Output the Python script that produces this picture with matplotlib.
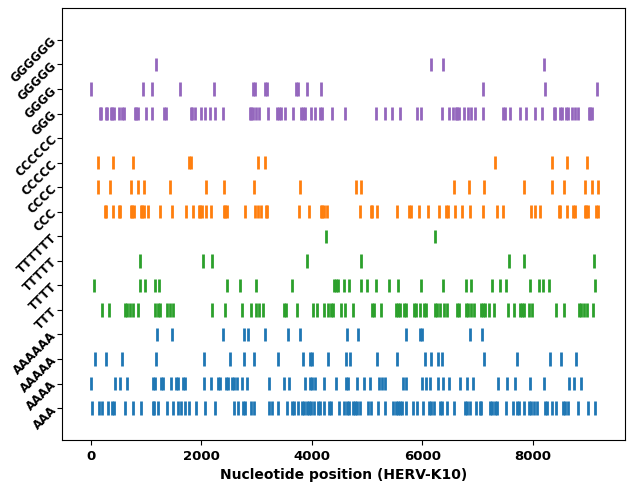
import matplotlib
matplotlib.use("Agg")
import matplotlib.pyplot as plt

# Row labels, bottom to top
labels = ["AAA", "AAAA", "AAAAA", "AAAAAA",
          "TTT", "TTTT", "TTTTT", "TTTTTT",
          "CCC", "CCCC", "CCCCC", "CCCCCC",
          "GGG", "GGGG", "GGGGG", "GGGGGG"]

# Positions of each homopolymer run
AAA = [24, 145, 193, 314, 380, 416, 615, 760, 911, 1116, 1146, 1206, 1381, 1484,
       1568, 1629, 1695, 1768, 1906, 2063, 2238, 2588, 2660, 2751, 2787, 2902, 2956,
       3222, 3276, 3391, 3542, 3632, 3680, 3741, 3819, 3861, 3904, 3946, 3982, 4030,
       4109, 4151, 4223, 4314, 4350, 4483, 4579, 4628, 4670, 4736, 4778, 4821, 4863,
       5020, 5068, 5189, 5327, 5472, 5514, 5557, 5599, 5629, 5701, 5822, 5907, 6009,
       6112, 6154, 6214, 6310, 6359, 6443, 6576, 6769, 6811, 6860, 6968, 7034, 7065,
       7221, 7264, 7306, 7348, 7511, 7638, 7716, 7752, 7843, 7927, 7969, 8012, 8066,
       8211, 8253, 8344, 8410, 8543, 8585, 8633, 8814, 9001, 9128]
AAAA = [5, 428, 519, 645, 1122, 1164, 1267, 1303, 1442, 1532, 1581, 1671, 1707,
        2039, 2166, 2298, 2341, 2437, 2479, 2546, 2594, 2642, 2733, 2823, 3228, 3487,
        3578, 3867, 3964, 4006, 4048, 4211, 4429, 4616, 4652, 4809, 4935, 5050, 5213,
        5267, 5315, 5641, 5707, 5985, 6057, 6142, 6287, 6377, 6473, 6672, 6799, 6908,
        7360, 7529, 7668, 7951, 8199, 8645, 8736, 8862]
AAAAA = [66, 265, 561, 1176, 2045, 2510, 2769, 2944, 3379, 3831, 3964, 4006, 4284,
         4622, 4682, 5171, 5533, 6039, 6148, 6275, 6347, 7119, 7704, 8301, 8500, 8778]
AAAAAA = [1194, 1460, 2389, 2769, 2841, 3149, 3560, 3783, 4628, 4827, 5701, 5961,
          5997, 6853, 7071]

TTT = [193, 320, 615, 657, 706, 754, 857, 1152, 1212, 1255, 1375, 1430, 1478, 2184,
       2419, 2727, 2890, 2980, 3035, 3107, 3487, 3536, 3723, 4012, 4091, 4211, 4284,
       4338, 4380, 4519, 4597, 4736, 5080, 5122, 5249, 5520, 5557, 5593, 5665, 5701,
       5840, 5888, 5955, 6027, 6063, 6226, 6256, 6317, 6383, 6443, 6624, 6660, 6781,
       6829, 6878, 6932, 7053, 7089, 7137, 7209, 7288, 7553, 7650, 7758, 7795, 7843,
       7927, 7976, 8410, 8555, 8832, 8874, 8917, 8971, 9086]
TTTT = [54, 881, 971, 1152, 1231, 2461, 2697, 2992, 3632, 4398, 4441, 4477, 4579,
        4670, 4881, 4989, 5158, 5388, 5551, 5967, 6365, 6781, 6872, 7258, 7402, 7511,
        7945, 8108, 8181, 8289, 9122]
TTTTT = [881, 2021, 2190, 3910, 4881, 7559, 7831, 9104]
TTTTTT = [4254, 6226]

CCC = [247, 277, 392, 501, 531, 718, 748, 778, 899, 929, 965, 1032, 1243, 1460,
       1713, 1840, 1949, 1979, 2015, 2075, 2166, 2401, 2431, 2467, 2781, 2968, 3017,
       3077, 3162, 3192, 3759, 3940, 4157, 4187, 4223, 4266, 4863, 5062, 5092, 5171,
       5533, 5750, 5792, 5931, 6094, 6293, 6419, 6461, 6588, 6709, 6853, 7095, 7342,
       7457, 7958, 8030, 8120, 8470, 8494, 8615, 8718, 8760, 8935, 8965, 9001, 9140,
       9176]
CCCC = [121, 344, 724, 851, 959, 1430, 2081, 2407, 2950, 3783, 4797, 4887, 6570,
        6841, 7113, 7837, 8344, 8561, 8941, 9067, 9176]
CCCCC = [121, 392, 760, 1774, 1816, 3017, 3143, 7312, 8344, 8615, 8977]
CCCCCC = []

GGG = [157, 187, 265, 296, 356, 386, 416, 507, 561, 597, 790, 820, 851, 989, 1104,
       1321, 1357, 1804, 1834, 1876, 1985, 2057, 2148, 2238, 2389, 2872, 2902, 2932,
       2986, 3041, 3198, 3361, 3397, 3439, 3505, 3650, 3795, 3831, 3879, 3976, 4054,
       4139, 4181, 4356, 4597, 5152, 5315, 5442, 5587, 5895, 5967, 6353, 6473, 6546,
       6600, 6630, 6660, 6751, 6817, 6872, 6944, 7095, 7451, 7493, 7583, 7764, 7873,
       8030, 8163, 8374, 8404, 8488, 8525, 8591, 8633, 8712, 8766, 8808, 9007, 9037,
       9068]
GGGG = [0, 935, 1098, 1611, 2220, 2926, 2962, 3143, 3186, 3705, 3747, 3910, 4157,
        7095, 8217, 9158]
GGGGG = [1176, 6154, 6371, 8193]
GGGGGG = []

positions = [AAA, AAAA, AAAAA, AAAAAA, TTT, TTTT, TTTTT, TTTTTT,
             CCC, CCCC, CCCCC, CCCCCC, GGG, GGGG, GGGGG, GGGGGG]
colors = ["C0"] * 4 + ["C2"] * 4 + ["C1"] * 4 + ["C4"] * 4

fig = plt.figure(figsize=(6.3, 4.88), dpi=100)
ax = fig.add_axes([0.0984, 0.0984, 0.8936, 0.8852])
ax.eventplot(positions, colors=colors, lineoffsets=range(len(labels)),
             linelengths=0.55, linewidths=2)
ax.set_xlim(-525, 9665)
ax.set_ylim(-1.3, 16.3)
ax.set_yticks(range(len(labels)))
ax.set_yticklabels(labels, rotation=45, fontweight="bold", fontsize=8.5)
ax.tick_params(axis="y", pad=-1.5)
for t in ax.get_xticklabels():
    t.set_fontweight("bold")
    t.set_fontsize(9.5)
ax.set_xlabel("Nucleotide position (HERV-K10)", fontweight="bold", fontsize=10)
fig.savefig("out.png")
